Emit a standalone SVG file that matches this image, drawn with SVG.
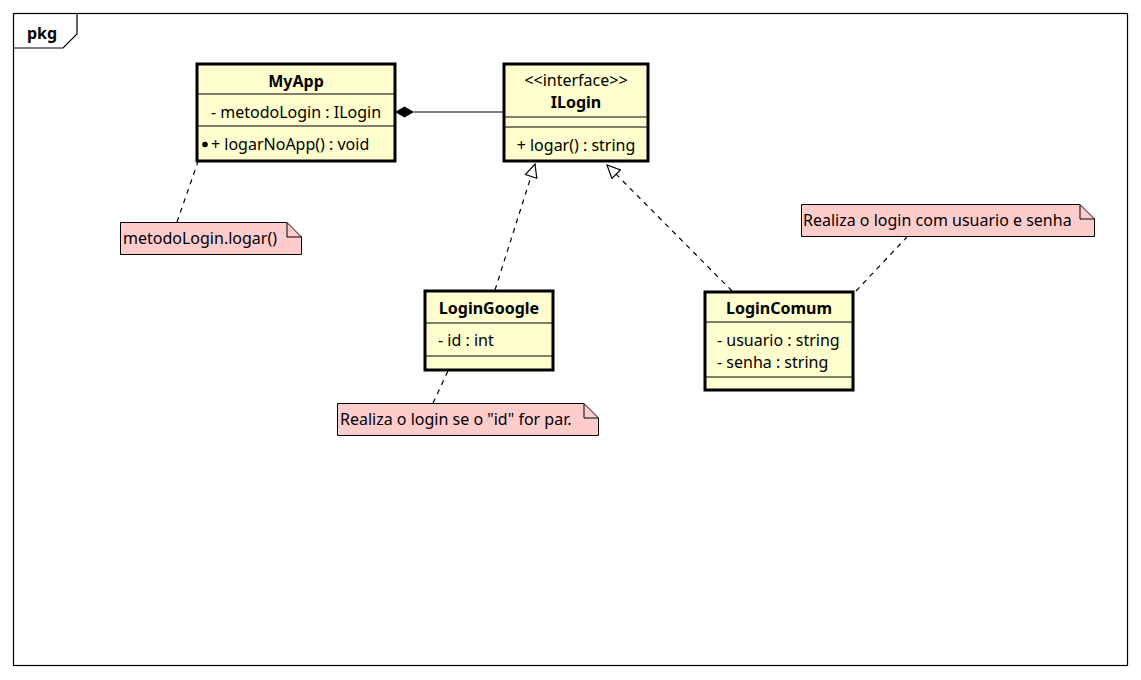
<svg xmlns="http://www.w3.org/2000/svg" width="1141" height="680" viewBox="0 0 1141 680">
<style>
text{font-family:"Noto Sans","DejaVu Sans",sans-serif;font-size:16px;fill:#000}
.b{font-weight:bold}
.m{text-anchor:middle}
.cls{fill:#FEFECE;stroke:#000;stroke-width:3}
.sep{stroke:#000;stroke-width:1.2}
.note{fill:#FFCCCC;stroke:#000;stroke-width:1}
.fold{fill:none;stroke:#000;stroke-width:1}
.dash{stroke:#000;stroke-width:1.2;fill:none;stroke-dasharray:5,5}
</style>
<defs>
<marker id="tri" viewBox="0 0 15 14" refX="14" refY="7" markerWidth="15" markerHeight="14" markerUnits="userSpaceOnUse" orient="auto">
<path d="M1,1 L14,7 L1,13 Z" fill="#fff" stroke="#000" stroke-width="1.2"/>
</marker>
</defs>
<rect width="1141" height="680" fill="#fff"/>
<g id="frame">
<rect x="13.5" y="13.5" width="1114" height="652" fill="none" stroke="#000" stroke-width="1.2"/>
<path d="M13.5,48 L63,48 L77,34 L77,13.5" fill="none" stroke="#000" stroke-width="1.2"/>
<text x="27" y="39" class="b">pkg</text>
</g>
<g id="connectors">
<line x1="414" y1="112" x2="503" y2="112" stroke="#000" stroke-width="1.2"/>
<path d="M395,112 L404.5,106.5 L414,112 L404.5,117.5 Z" fill="#000"/>
<line x1="495" y1="290" x2="535" y2="164" class="dash" marker-end="url(#tri)"/>
<line x1="732" y1="291" x2="607" y2="165" class="dash" marker-end="url(#tri)"/>
<line x1="177" y1="222" x2="201" y2="153" class="dash"/>
<line x1="433" y1="403" x2="448" y2="371" class="dash"/>
<line x1="856" y1="291" x2="907" y2="237" class="dash"/>
</g>
<g id="MyApp">
<rect x="197" y="64" width="198" height="97" class="cls"/>
<line x1="197" y1="94" x2="395" y2="94" class="sep"/>
<line x1="197" y1="126" x2="395" y2="126" class="sep"/>
<text x="296" y="87" class="b m">MyApp</text>
<text x="296" y="118" class="m">- metodoLogin : ILogin</text>
<text x="211" y="150">+ logarNoApp() : void</text>
<circle cx="205" cy="144.5" r="2.8" fill="#000"/>
</g>
<g id="ILogin">
<rect x="504" y="64" width="144" height="97" class="cls"/>
<line x1="504" y1="117" x2="648" y2="117" class="sep"/>
<line x1="504" y1="127" x2="648" y2="127" class="sep"/>
<text x="576" y="86" class="m">&lt;&lt;interface&gt;&gt;</text>
<text x="576" y="108" class="b m">ILogin</text>
<text x="576" y="151" class="m">+ logar() : string</text>
</g>
<g id="LoginGoogle">
<rect x="425" y="291" width="128" height="79" class="cls"/>
<line x1="425" y1="323" x2="553" y2="323" class="sep"/>
<line x1="425" y1="356" x2="553" y2="356" class="sep"/>
<text x="489" y="314" class="b m">LoginGoogle</text>
<text x="438" y="346">- id : int</text>
</g>
<g id="LoginComum">
<rect x="705" y="292" width="148" height="98" class="cls"/>
<line x1="705" y1="322" x2="853" y2="322" class="sep"/>
<line x1="705" y1="377" x2="853" y2="377" class="sep"/>
<text x="779" y="314" class="b m">LoginComum</text>
<text x="717" y="346">- usuario : string</text>
<text x="717" y="368">- senha : string</text>
</g>
<g id="note1">
<path d="M120.5,222.5 L287,222.5 L301.5,237 L301.5,254.5 L120.5,254.5 Z" class="note"/>
<path d="M287,222.5 L287,237 L301.5,237" class="fold"/>
<text x="123" y="244">metodoLogin.logar()</text>
</g>
<g id="note2">
<path d="M337.5,403.5 L584,403.5 L598.5,418 L598.5,435.5 L337.5,435.5 Z" class="note"/>
<path d="M584,403.5 L584,418 L598.5,418" class="fold"/>
<text x="340" y="425">Realiza o login se o "id" for par.</text>
</g>
<g id="note3">
<path d="M801.5,204.5 L1080,204.5 L1094.5,219 L1094.5,236.5 L801.5,236.5 Z" class="note"/>
<path d="M1080,204.5 L1080,219 L1094.5,219" class="fold"/>
<text x="803" y="226">Realiza o login com usuario e senha</text>
</g>
</svg>
